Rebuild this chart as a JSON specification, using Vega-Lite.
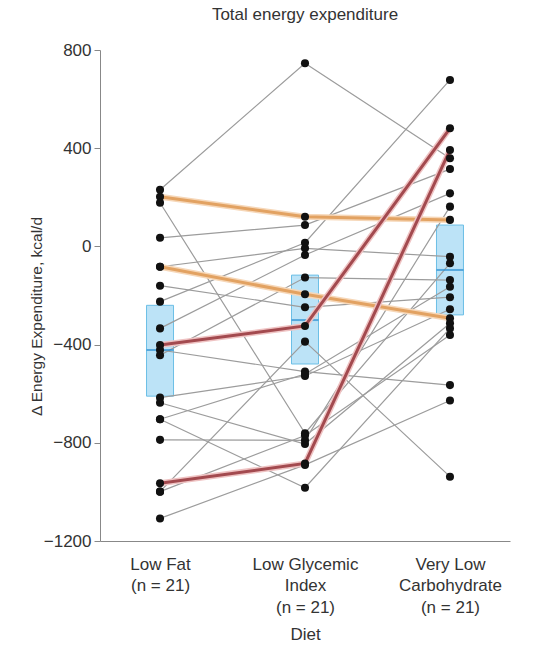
{
  "$schema": "https://vega.github.io/schema/vega-lite/v6.json",
  "width": 410,
  "height": 491,
  "autosize": "none",
  "padding": {"left": 100, "top": 50, "right": 27, "bottom": 109},
  "title": {
    "text": "Total energy expenditure",
    "fontSize": 17,
    "fontWeight": "normal",
    "font": "Liberation Sans",
    "color": "#333",
    "offset": 17
  },
  "config": {
    "view": {"stroke": null},
    "font": "Liberation Sans"
  },
  "datasets": {
    "subjects": [
      {"id": 1, "grp": "gray", "diet": "Low Fat", "value": 231},
      {"id": 1, "grp": "gray", "diet": "Low Glycemic Index", "value": 746},
      {"id": 1, "grp": "gray", "diet": "Very Low Carbohydrate", "value": 359},
      {"id": 2, "grp": "orange", "diet": "Low Fat", "value": 202},
      {"id": 2, "grp": "orange", "diet": "Low Glycemic Index", "value": 121},
      {"id": 2, "grp": "orange", "diet": "Very Low Carbohydrate", "value": 108},
      {"id": 3, "grp": "gray", "diet": "Low Fat", "value": 178},
      {"id": 3, "grp": "gray", "diet": "Low Glycemic Index", "value": -761},
      {"id": 3, "grp": "gray", "diet": "Very Low Carbohydrate", "value": -69},
      {"id": 4, "grp": "gray", "diet": "Low Fat", "value": 35},
      {"id": 4, "grp": "gray", "diet": "Low Glycemic Index", "value": 87},
      {"id": 4, "grp": "gray", "diet": "Very Low Carbohydrate", "value": 315},
      {"id": 5, "grp": "orange", "diet": "Low Fat", "value": -83},
      {"id": 5, "grp": "orange", "diet": "Low Glycemic Index", "value": -195},
      {"id": 5, "grp": "orange", "diet": "Very Low Carbohydrate", "value": -293},
      {"id": 6, "grp": "gray", "diet": "Low Fat", "value": -83},
      {"id": 6, "grp": "gray", "diet": "Low Glycemic Index", "value": -8},
      {"id": 6, "grp": "gray", "diet": "Very Low Carbohydrate", "value": -42},
      {"id": 7, "grp": "gray", "diet": "Low Fat", "value": -160},
      {"id": 7, "grp": "gray", "diet": "Low Glycemic Index", "value": -248},
      {"id": 7, "grp": "gray", "diet": "Very Low Carbohydrate", "value": -207},
      {"id": 8, "grp": "gray", "diet": "Low Fat", "value": -225},
      {"id": 8, "grp": "gray", "diet": "Low Glycemic Index", "value": 15},
      {"id": 8, "grp": "gray", "diet": "Very Low Carbohydrate", "value": 678},
      {"id": 9, "grp": "gray", "diet": "Low Fat", "value": -334},
      {"id": 9, "grp": "gray", "diet": "Low Glycemic Index", "value": -35},
      {"id": 9, "grp": "gray", "diet": "Very Low Carbohydrate", "value": 216},
      {"id": 10, "grp": "red", "diet": "Low Fat", "value": -402},
      {"id": 10, "grp": "red", "diet": "Low Glycemic Index", "value": -324},
      {"id": 10, "grp": "red", "diet": "Very Low Carbohydrate", "value": 481},
      {"id": 11, "grp": "gray", "diet": "Low Fat", "value": -422},
      {"id": 11, "grp": "gray", "diet": "Low Glycemic Index", "value": -510},
      {"id": 11, "grp": "gray", "diet": "Very Low Carbohydrate", "value": -565},
      {"id": 12, "grp": "gray", "diet": "Low Fat", "value": -443},
      {"id": 12, "grp": "gray", "diet": "Low Glycemic Index", "value": -127},
      {"id": 12, "grp": "gray", "diet": "Very Low Carbohydrate", "value": -137},
      {"id": 13, "grp": "gray", "diet": "Low Fat", "value": -616},
      {"id": 13, "grp": "gray", "diet": "Low Glycemic Index", "value": -528},
      {"id": 13, "grp": "gray", "diet": "Very Low Carbohydrate", "value": -256},
      {"id": 14, "grp": "gray", "diet": "Low Fat", "value": -637},
      {"id": 14, "grp": "gray", "diet": "Low Glycemic Index", "value": -805},
      {"id": 14, "grp": "gray", "diet": "Very Low Carbohydrate", "value": -313},
      {"id": 15, "grp": "gray", "diet": "Low Fat", "value": -704},
      {"id": 15, "grp": "gray", "diet": "Low Glycemic Index", "value": -520},
      {"id": 15, "grp": "gray", "diet": "Very Low Carbohydrate", "value": -164},
      {"id": 16, "grp": "gray", "diet": "Low Fat", "value": -704},
      {"id": 16, "grp": "gray", "diet": "Low Glycemic Index", "value": -983},
      {"id": 16, "grp": "gray", "diet": "Very Low Carbohydrate", "value": -334},
      {"id": 17, "grp": "gray", "diet": "Low Fat", "value": -788},
      {"id": 17, "grp": "gray", "diet": "Low Glycemic Index", "value": -790},
      {"id": 17, "grp": "gray", "diet": "Very Low Carbohydrate", "value": 162},
      {"id": 18, "grp": "red", "diet": "Low Fat", "value": -965},
      {"id": 18, "grp": "red", "diet": "Low Glycemic Index", "value": -884},
      {"id": 18, "grp": "red", "diet": "Very Low Carbohydrate", "value": 393},
      {"id": 19, "grp": "gray", "diet": "Low Fat", "value": -999},
      {"id": 19, "grp": "gray", "diet": "Low Glycemic Index", "value": -388},
      {"id": 19, "grp": "gray", "diet": "Very Low Carbohydrate", "value": -938},
      {"id": 20, "grp": "gray", "diet": "Low Fat", "value": -999},
      {"id": 20, "grp": "gray", "diet": "Low Glycemic Index", "value": -770},
      {"id": 20, "grp": "gray", "diet": "Very Low Carbohydrate", "value": -361},
      {"id": 21, "grp": "gray", "diet": "Low Fat", "value": -1108},
      {"id": 21, "grp": "gray", "diet": "Low Glycemic Index", "value": -890},
      {"id": 21, "grp": "gray", "diet": "Very Low Carbohydrate", "value": -628}
    ],
    "boxes": [
      {"diet": "Low Fat", "q1": -610, "q3": -240, "median": -422},
      {"diet": "Low Glycemic Index", "q1": -479, "q3": -117, "median": -300},
      {"diet": "Very Low Carbohydrate", "q1": -279, "q3": 87, "median": -96}
    ]
  },
  "encoding": {
    "x": {
      "field": "diet",
      "type": "nominal",
      "sort": ["Low Fat", "Low Glycemic Index", "Very Low Carbohydrate"],
      "scale": {"type": "point", "padding": 0.414},
      "title": "Diet",
      "axis": {
        "labelAngle": 0,
        "ticks": false,
        "domainColor": "#888",
        "labelFontSize": 17,
        "labelColor": "#333",
        "labelPadding": 15,
        "labelLineHeight": 21.5,
        "labelExpr": "datum.value == 'Low Fat' ? ['Low Fat', '(n = 21)'] : datum.value == 'Low Glycemic Index' ? ['Low Glycemic', 'Index', '(n = 21)'] : ['Very Low', 'Carbohydrate', '(n = 21)']",
        "titleFontSize": 17,
        "titleFontWeight": "normal",
        "titleColor": "#333",
        "titlePadding": 11
      }
    }
  },
  "layer": [
    {
      "mark": {"type": "rule", "color": "#999", "strokeWidth": 1.2},
      "encoding": {"x": null, "y": {"datum": 0, "type": "quantitative"}}
    },
    {
      "data": {"name": "boxes"},
      "mark": {"type": "bar", "width": 27, "fill": "#b0def6", "fillOpacity": 0.85, "stroke": "#6cbfe6", "strokeWidth": 1},
      "encoding": {
        "y": {"field": "q3", "type": "quantitative"},
        "y2": {"field": "q1"}
      }
    },
    {
      "data": {"name": "subjects"},
      "transform": [{"filter": "datum.grp == 'gray'"}],
      "mark": {"type": "line", "color": "#9c9c9c", "strokeWidth": 1.2},
      "encoding": {
        "y": {"field": "value", "type": "quantitative"},
        "detail": {"field": "id"}
      }
    },
    {
      "data": {"name": "boxes"},
      "mark": {"type": "tick", "size": 27, "thickness": 2, "color": "#2b8fd2"},
      "encoding": {
        "y": {"field": "median", "type": "quantitative"}
      }
    },
    {
      "data": {"name": "subjects"},
      "transform": [{"filter": "datum.grp == 'orange'"}],
      "mark": {"type": "line", "color": "#f6d7b8", "strokeWidth": 6},
      "encoding": {
        "y": {"field": "value", "type": "quantitative"},
        "detail": {"field": "id"}
      }
    },
    {
      "data": {"name": "subjects"},
      "transform": [{"filter": "datum.grp == 'orange'"}],
      "mark": {"type": "line", "color": "#e2a262", "strokeWidth": 3},
      "encoding": {
        "y": {"field": "value", "type": "quantitative"},
        "detail": {"field": "id"}
      }
    },
    {
      "data": {"name": "subjects"},
      "transform": [{"filter": "datum.grp == 'red'"}],
      "mark": {"type": "line", "color": "#efc3c3", "strokeWidth": 6},
      "encoding": {
        "y": {"field": "value", "type": "quantitative"},
        "detail": {"field": "id"}
      }
    },
    {
      "data": {"name": "subjects"},
      "transform": [{"filter": "datum.grp == 'red'"}],
      "mark": {"type": "line", "color": "#a34a4f", "strokeWidth": 3},
      "encoding": {
        "y": {"field": "value", "type": "quantitative"},
        "detail": {"field": "id"}
      }
    },
    {
      "data": {"name": "subjects"},
      "mark": {"type": "circle", "size": 65, "color": "#111", "opacity": 1},
      "encoding": {
        "y": {
          "field": "value",
          "type": "quantitative",
          "scale": {"domain": [-1200, 800], "nice": false, "zero": false},
          "title": "Δ Energy Expenditure, kcal/d",
          "axis": {
            "values": [-1200, -800, -400, 0, 400, 800],
            "format": "d",
            "grid": false,
            "domainColor": "#888",
            "tickColor": "#888",
            "tickSize": 6,
            "labelFontSize": 17,
            "labelColor": "#333",
            "labelPadding": 3,
            "titleFontSize": 15.5,
            "titleFontWeight": "normal",
            "titleColor": "#333",
            "titleX": -56,
            "titleY": 266
          }
        }
      }
    }
  ]
}
